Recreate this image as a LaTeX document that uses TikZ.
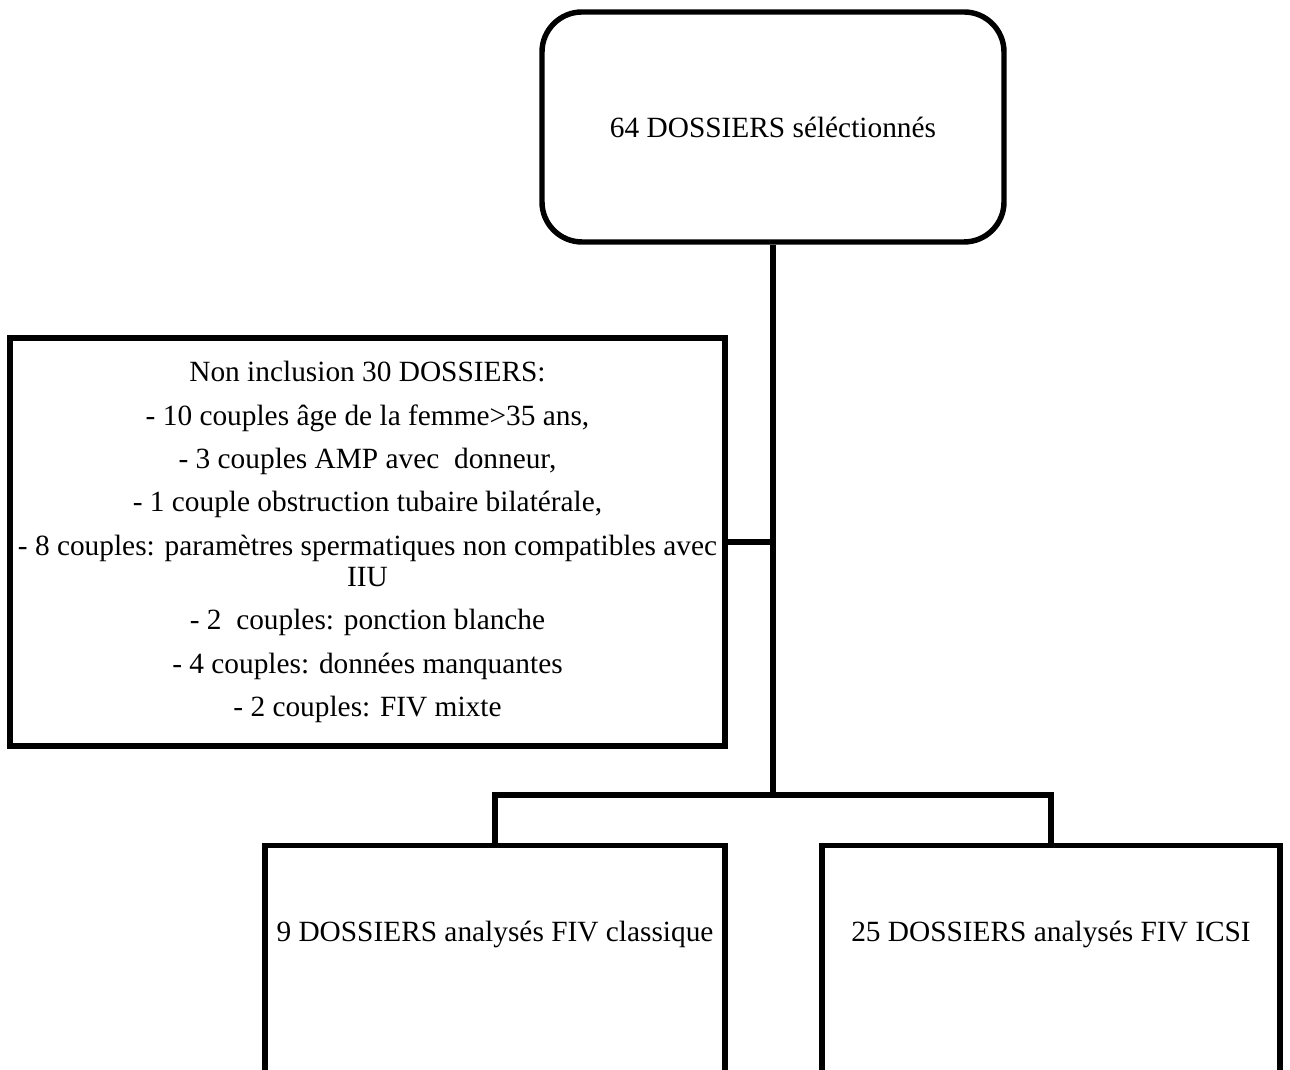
\documentclass[tikz,border=0pt]{standalone}
\usepackage{fontspec}
\setmainfont{Liberation Serif}
\tikzset{
  box/.style={draw, line width=3.1pt, align=center, inner sep=0pt,
    font=\fontsize{16.7}{17.6}\selectfont},
  txt/.style={align=center, font=\fontsize{16.7}{17.6}\selectfont},
  link/.style={line width=3.1pt},
}
\begin{document}
\begin{tikzpicture}
\useasboundingbox (0,0) rectangle (25.8,21.4);
\node[box, rounded corners=0.8cm, minimum width=9.24cm, minimum height=4.6cm] (sel) at (15.46,18.86) {64 DOSSIERS séléctionnés};
\node[box, minimum width=14.3cm, minimum height=8.16cm] (excl) at (7.35,10.56) {Non inclusion 30 DOSSIERS:\\[7.1pt]
- 10 couples âge de la femme>35 ans,\\[7.1pt]
- 3 couples AMP avec~ donneur,\\[7.1pt]
- 1 couple obstruction tubaire bilatérale,\\[7.1pt]
- 8 couples: paramètres spermatiques non compatibles avec\\
IIU\\[7.1pt]
- 2~ couples: ponction blanche\\[7.1pt]
- 4 couples: données manquantes\\[7.1pt]
- 2 couples: FIV mixte};
\node[box, minimum width=9.2cm, minimum height=5.2cm, anchor=north] (fivc) at (9.9,4.54) {};
\node[box, minimum width=9.16cm, minimum height=5.2cm, anchor=north] (icsi) at (21.02,4.54) {};
\node[txt] (fivct) at (9.9,2.72) {9 DOSSIERS analysés FIV classique};
\node[txt] (icsit) at (21.02,2.72) {25 DOSSIERS analysés FIV ICSI};
\coordinate (bar) at (15.46,5.5);
% connectors
\draw[link] (sel.south) -- (bar);
\draw[link] (excl.east) -- (excl.east -| sel.south);
\draw[link] (fivc.north) |- (bar) -| (icsi.north);
\end{tikzpicture}
\end{document}
